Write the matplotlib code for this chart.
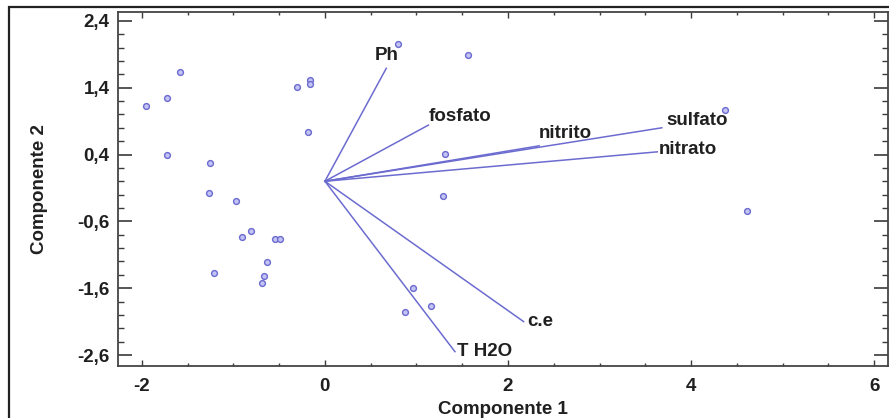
import matplotlib
matplotlib.use("Agg")
import matplotlib.pyplot as plt
from matplotlib.patches import Rectangle
from matplotlib.ticker import MultipleLocator, FuncFormatter

plt.rcParams['font.family'] = ['Liberation Sans', 'DejaVu Sans']

# Sample scores on the first two principal components
comp1 = [-1.58, -1.73, -1.95, -1.73, -1.25, -1.27, -0.97, -0.81, -0.91, -0.55,
         -0.49, -0.63, -1.21, -0.66, -0.69, 0.80, 1.56, -0.30, -0.16, -0.16,
         -0.18, 1.31, 1.29, 0.96, 1.16, 0.88, 4.37, 4.61]
comp2 = [1.63, 1.24, 1.13, 0.39, 0.28, -0.18, -0.29, -0.74, -0.84, -0.87,
         -0.87, -1.21, -1.38, -1.42, -1.52, 2.05, 1.89, 1.41, 1.51, 1.45,
         0.73, 0.41, -0.22, -1.60, -1.87, -1.95, 1.06, -0.44]

# Variable loadings (biplot vectors)
variables = ['Ph', 'fosfato', 'nitrito', 'sulfato', 'nitrato', 'c.e', 'T H2O']
load1 = [0.67, 1.13, 2.34, 3.68, 3.63, 2.17, 1.42]
load2 = [1.69, 0.84, 0.53, 0.80, 0.44, -2.10, -2.55]

# label placement: (dx, dy) in points, horizontal and vertical alignment
label_style = {
    'Ph': ((0, 3), 'center', 'bottom'),
    'fosfato': ((0, 6), 'left', 'center'),
    'nitrito': ((0, 9), 'left', 'center'),
    'sulfato': ((3.5, 5.5), 'left', 'center'),
    'nitrato': ((1, 1.5), 'left', 'center'),
    'c.e': ((2.5, 0), 'left', 'center'),
    'T H2O': ((1.5, 0), 'left', 'center'),
}

FS = 13.5
TEXT = '#202020'

W, H = 889, 418
fig = plt.figure(figsize=(W / 100, H / 100), dpi=100)
ax = fig.add_axes([118 / W, 1 - 365.7 / H, (888 - 118) / W, (365.7 - 11.5) / H])

line_color = '#6c6cd0'
for name, x, y in zip(variables, load1, load2):
    ax.plot([0, x], [0, y], color=line_color, lw=1.1, zorder=2)
    (dx, dy), ha, va = label_style[name]
    ax.annotate(name, (x, y), xytext=(dx, dy), textcoords='offset points',
                ha=ha, va=va, fontsize=FS, fontweight='bold', color=TEXT,
                zorder=4)

ax.plot(comp1, comp2, linestyle='none', marker='o', markersize=4.2,
        markerfacecolor='#c4c4f4', markeredgecolor='#6a6ad0', markeredgewidth=1.0,
        zorder=3)

ax.set_xlim(-2.26, 6.15)
ax.set_ylim(-2.76, 2.54)

ax.xaxis.set_major_locator(MultipleLocator(2))
ax.xaxis.set_minor_locator(MultipleLocator(0.5))
ax.yaxis.set_major_locator(MultipleLocator(1.0, offset=0.4))
ax.yaxis.set_minor_locator(MultipleLocator(0.2))

comma = FuncFormatter(lambda v, p: ('%g' % round(v, 1)).replace('.', ','))
ax.xaxis.set_major_formatter(comma)
ax.yaxis.set_major_formatter(comma)

ax.tick_params(axis='both', which='both', direction='in', colors='#3a3a3a',
               top=True, right=True)
ax.tick_params(axis='y', which='major', length=10, width=1.2, pad=6)
ax.tick_params(axis='y', which='minor', length=4, width=1.0)
ax.tick_params(axis='x', which='major', length=4, width=1.0, pad=9)
ax.tick_params(axis='x', which='minor', length=2.5, width=1.0)
for lbl in ax.get_xticklabels() + ax.get_yticklabels():
    lbl.set_fontsize(FS)
    lbl.set_fontweight('bold')
    lbl.set_color(TEXT)

for s in ax.spines.values():
    s.set_color('#444444')
    s.set_linewidth(1.3)

ax.set_xlabel('Componente 1', fontsize=FS, fontweight='bold', color=TEXT,
              labelpad=4)
ax.set_ylabel('Componente 2', fontsize=FS, fontweight='bold', color=TEXT,
              labelpad=21)

# outer frame around the figure
fig.add_artist(Rectangle((8.5 / W, -0.1), 1.2, 1 - 6.5 / H + 0.1,
                         transform=fig.transFigure, fill=False,
                         edgecolor='#222222', linewidth=1.6))

fig.savefig('out.png', dpi=100)
